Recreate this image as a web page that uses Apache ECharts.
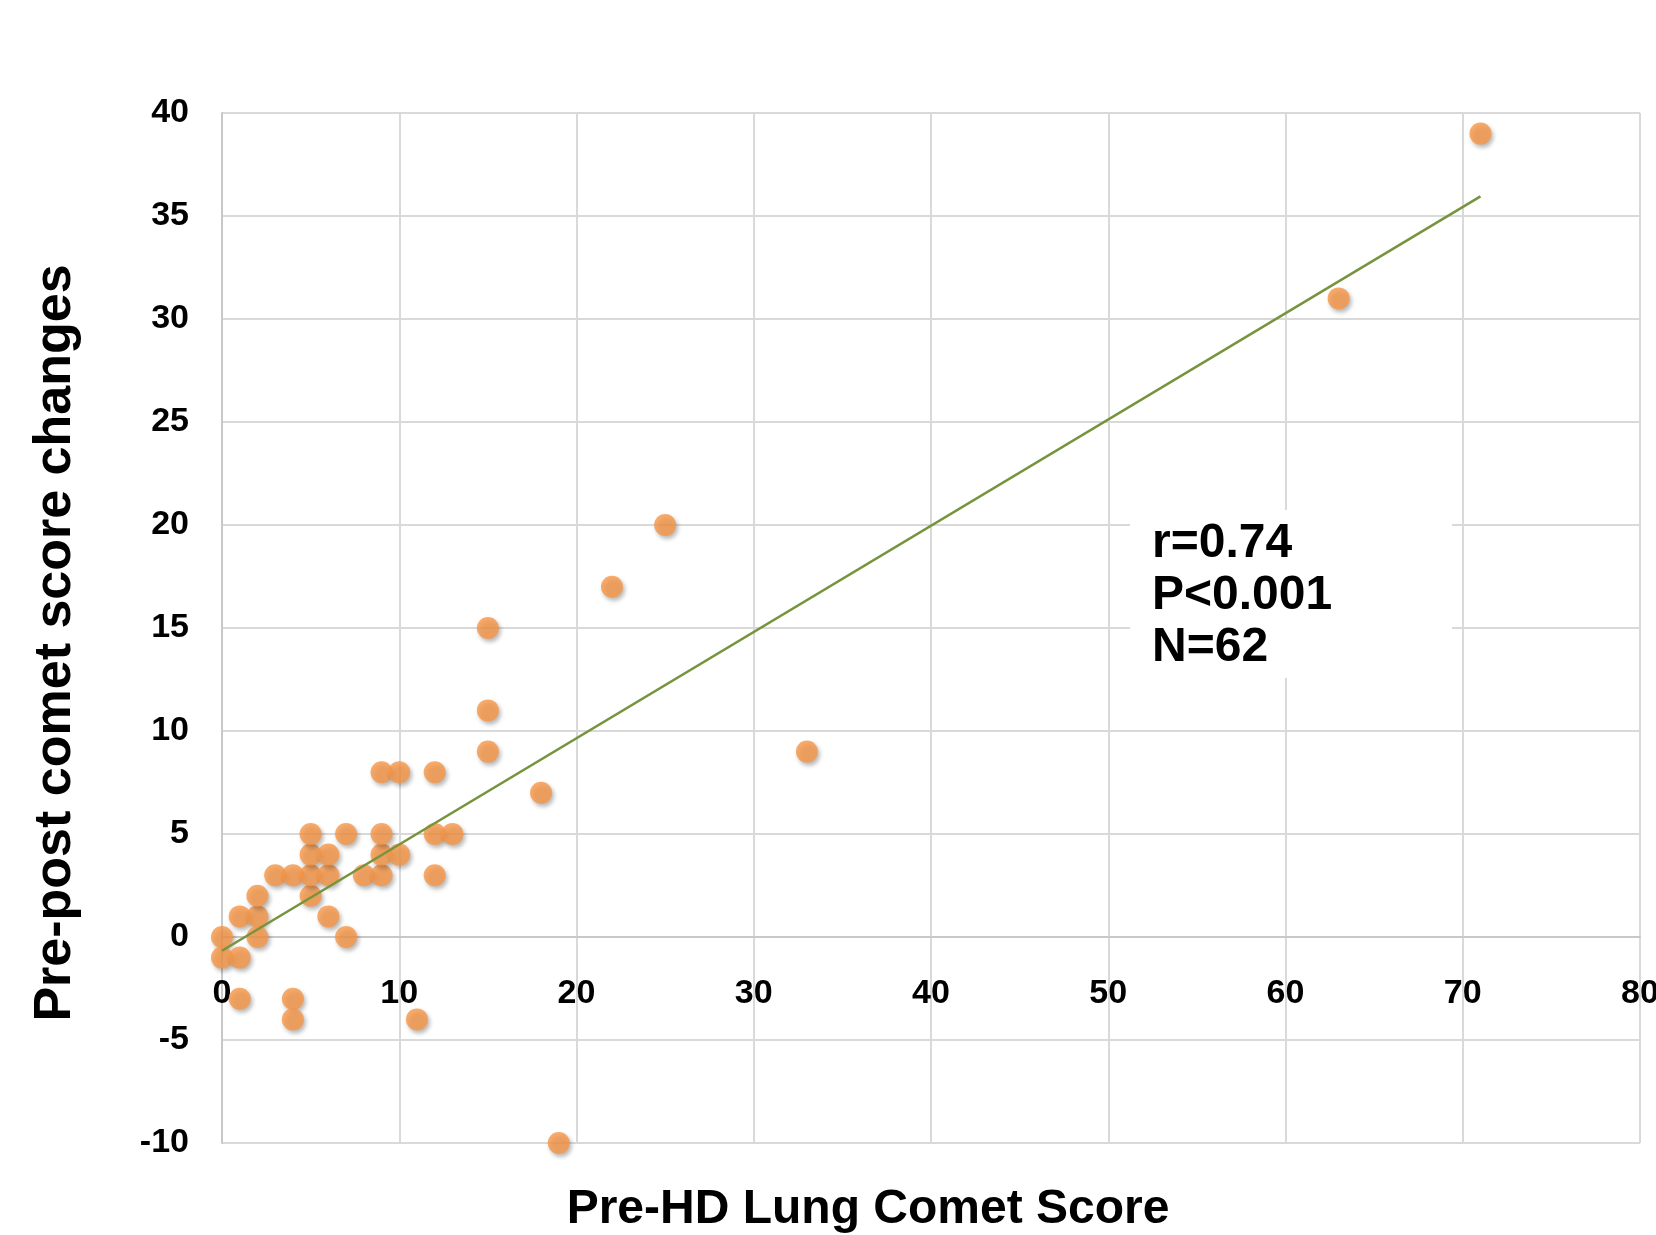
<!DOCTYPE html>
<html>
<head>
<meta charset="utf-8">
<title>Pre-HD Lung Comet Score</title>
<script src="https://cdn.jsdelivr.net/npm/echarts@6/dist/echarts.min.js"></script>
<style>
  html, body { margin: 0; padding: 0; background: #fff; }
  #chart { width: 1656px; height: 1235px; }
</style>
</head>
<body>
<div id="chart"></div>
<script>
// pre-HD comet score (x) and pre-post change (y)
var preScore = [0, 0, 1, 1, 2, 2, 2, 3, 4, 5, 5, 5, 5, 6, 6, 6, 7, 7, 8, 9, 9, 10, 9,
  9, 10, 12, 12, 13, 12, 15, 15, 15, 18, 22, 25, 33, 63, 71, 19, 1, 4, 4, 11];
var scoreChange = [0, -1, -1, 1, 1, 0, 2, 3, 3, 2, 3, 4, 5, 3, 4, 1, 0, 5, 3, 3, 4, 4, 5,
  8, 8, 8, 5, 5, 3, 9, 11, 15, 7, 17, 20, 9, 31, 39, -10, -3, -3, -4, -4];

// fitted line end points as drawn
var fitX = [0, 71];
var fitY = [-0.67, 35.95];

var statLines = ["r=0.74", "P<0.001", "N=62"];

var xTicks = { min: 0, max: 80, step: 10 };
var yTicks = { min: -10, max: 40, step: 5 };

var points = preScore.map(function (x, i) { return [x, scoreChange[i]]; });
var fitData = fitX.map(function (x, i) { return [x, fitY[i]]; });

var font = '"Liberation Sans", Arial, sans-serif';
var gridColor = "#d9d9d9";

// plot box in pixels
var plotTop = 113, plotBottom = 92;
var plotHeight = 1235 - plotTop - plotBottom;
// the x axis sits on y = 0, so lift it from the bottom edge
var zeroLift = plotHeight * (0 - yTicks.min) / (yTicks.max - yTicks.min);

var chart = echarts.init(document.getElementById("chart"));
chart.setOption({
  backgroundColor: "#ffffff",
  animation: false,
  textStyle: { fontFamily: font },
  grid: { left: 222, right: 16, top: plotTop, bottom: plotBottom, containLabel: false, outerBoundsMode: "none" },
  xAxis: {
    type: "value",
    min: xTicks.min,
    max: xTicks.max,
    interval: xTicks.step,
    position: "bottom",
    offset: -zeroLift,
    name: "Pre-HD Lung Comet Score",
    nameLocation: "middle",
    nameGap: 249,
    nameTextStyle: { color: "#000", fontSize: 48, fontWeight: "bold", fontFamily: font, padding: [0, 126, 0, 0] },
    axisLine: { onZero: false, lineStyle: { color: "#c8c8c8", width: 2 } },
    axisTick: { show: false },
    axisLabel: { color: "#000", fontSize: 34, fontWeight: "bold", margin: 40, fontFamily: font },
    splitLine: { show: true, lineStyle: { color: gridColor, width: 2 } }
  },
  yAxis: {
    type: "value",
    min: yTicks.min,
    max: yTicks.max,
    interval: yTicks.step,
    name: "Pre-post comet score changes",
    nameLocation: "middle",
    nameGap: 140,
    nameTextStyle: { color: "#000", fontSize: 52, fontWeight: "bold", fontFamily: font, padding: [0, 30, 0, 0] },
    axisLine: { show: true, onZero: false, lineStyle: { color: "#c8c8c8", width: 2 } },
    axisTick: { show: false },
    axisLabel: { color: "#000", fontSize: 34, fontWeight: "bold", margin: 33, fontFamily: font },
    splitLine: { show: true, lineStyle: { color: gridColor, width: 2 } }
  },
  series: [
    {
      name: "Patients",
      type: "scatter",
      data: points,
      symbol: "circle",
      symbolSize: 22,
      z: 2,
      itemStyle: {
        color: "#f79646",
        shadowColor: "rgba(0,0,0,0.35)",
        shadowBlur: 4,
        shadowOffsetX: 2,
        shadowOffsetY: 3
      }
    },
    {
      name: "Fit",
      type: "line",
      data: fitData,
      symbol: "none",
      z: 3,
      lineStyle: { color: "#77933c", width: 2.5 }
    }
  ],
  graphic: [
    {
      type: "rect",
      shape: { x: 1130, y: 510, width: 322, height: 168 },
      style: { fill: "#ffffff" },
      z: 10
    },
    {
      type: "text",
      x: 1152,
      y: 518,
      z: 11,
      style: {
        text: statLines.join("\n"),
        font: "bold 48px " + font,
        lineHeight: 52,
        fill: "#000"
      }
    }
  ]
});
</script>
</body>
</html>
